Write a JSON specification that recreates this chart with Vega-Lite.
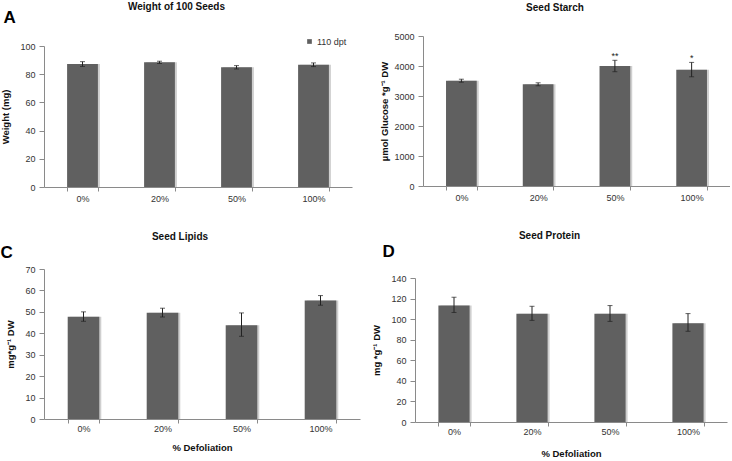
{
  "$schema": "https://vega.github.io/schema/vega-lite/v6.json",
  "padding": {"left": 0, "top": 2, "right": 0, "bottom": 0},
  "background": "white",
  "spacing": 28,
  "datasets": {
    "weight": [
      {"cat": "0%", "v": 87.2, "lo": 85.5, "hi": 88.9},
      {"cat": "20%", "v": 88.4, "lo": 87.6, "hi": 89.2},
      {"cat": "50%", "v": 84.9, "lo": 83.7, "hi": 86.1},
      {"cat": "100%", "v": 86.7, "lo": 85.4, "hi": 88.0}
    ],
    "starch": [
      {"cat": "0%", "v": 3510, "lo": 3460, "hi": 3560, "sig": ""},
      {"cat": "20%", "v": 3390, "lo": 3340, "hi": 3440, "sig": ""},
      {"cat": "50%", "v": 4000, "lo": 3810, "hi": 4190, "sig": "**"},
      {"cat": "100%", "v": 3877, "lo": 3640, "hi": 4120, "sig": "*"}
    ],
    "lipids": [
      {"cat": "0%", "v": 47.7, "lo": 45.6, "hi": 50.0},
      {"cat": "20%", "v": 49.6, "lo": 47.6, "hi": 51.7},
      {"cat": "50%", "v": 43.8, "lo": 38.6, "hi": 49.5},
      {"cat": "100%", "v": 55.3, "lo": 53.1, "hi": 57.6}
    ],
    "protein": [
      {"cat": "0%", "v": 113.3, "lo": 106.5, "hi": 121.3},
      {"cat": "20%", "v": 105.2, "lo": 98.8, "hi": 112.5},
      {"cat": "50%", "v": 105.2, "lo": 97.8, "hi": 113.2},
      {"cat": "100%", "v": 96.1, "lo": 88.2, "hi": 105.4}
    ]
  },
  "config": {
    "view": {"stroke": null},
    "font": "Liberation Sans",
    "title": {"font": "Liberation Sans", "fontSize": 10, "fontWeight": "bold", "color": "#111", "anchor": "middle", "frame": "bounds"},
    "axis": {
      "grid": false,
      "domainColor": "#8a8a8a",
      "tickColor": "#8a8a8a",
      "labelFont": "Liberation Sans",
      "labelFontSize": 9,
      "labelColor": "#333",
      "labelOverlap": false,
      "titleFont": "Liberation Sans",
      "titleFontSize": 9.5,
      "titleFontWeight": "bold",
      "titleColor": "#111"
    },
    "legend": {"labelFont": "Liberation Sans"}
  },
  "vconcat": [
    {
      "spacing": 27,
      "hconcat": [
        {
          "width": 308,
          "height": 151,
          "title": {"text": "Weight of 100 Seeds", "offset": -4},
          "data": {"name": "weight"},
          "layer": [
            {
              "mark": {"type": "bar", "color": "#cfcfcf", "xOffset": 2},
              "encoding": {
                "x": {"field": "cat", "type": "nominal", "sort": null, "scale": {"paddingInner": 0.6, "paddingOuter": 0.3},
                  "axis": {"orient": "bottom", "title": null, "labelAngle": 0, "tickBand": "extent", "tickSize": 4, "labelPadding": 3}},
                "y": {"field": "v", "type": "quantitative", "title": "Weight (mg)", "scale": {"domain": [0, 100], "nice": false, "range": [151, 10]},
                  "axis": {"values": [0, 20, 40, 60, 80, 100], "tickSize": 5, "labelPadding": 4, "titlePadding": 9}}
              }
            },
            {
              "mark": {"type": "bar"},
              "encoding": {
                "x": {"field": "cat", "type": "nominal", "sort": null, "axis": null},
                "y": {"field": "v", "type": "quantitative", "title": "Weight (mg)",
                  "axis": {"values": [0, 20, 40, 60, 80, 100], "tickSize": 5, "labelPadding": 4, "titlePadding": 9}},
                "color": {"datum": "110 dpt", "scale": {"range": ["#606060"]},
                  "legend": {"orient": "none", "legendX": 261, "legendY": 1, "title": null, "symbolType": "square", "symbolSize": 22, "labelFontSize": 9, "labelColor": "#333", "labelOffset": 3}}
              }
            },
            {
              "mark": {"type": "rule", "color": "#222", "strokeWidth": 1},
              "encoding": {
                "x": {"field": "cat", "type": "nominal", "sort": null, "axis": null},
                "y": {"field": "lo", "type": "quantitative", "title": "Weight (mg)",
                  "axis": {"values": [0, 20, 40, 60, 80, 100], "tickSize": 5, "labelPadding": 4, "titlePadding": 9}},
                "y2": {"field": "hi"}
              }
            },
            {
              "mark": {"type": "tick", "color": "#222", "size": 5, "thickness": 1},
              "encoding": {
                "x": {"field": "cat", "type": "nominal", "sort": null, "axis": null},
                "y": {"field": "lo", "type": "quantitative", "title": "Weight (mg)",
                  "axis": {"values": [0, 20, 40, 60, 80, 100], "tickSize": 5, "labelPadding": 4, "titlePadding": 9}}
              }
            },
            {
              "mark": {"type": "tick", "color": "#222", "size": 5, "thickness": 1},
              "encoding": {
                "x": {"field": "cat", "type": "nominal", "sort": null,
                  "axis": {"orient": "top", "labels": false, "ticks": false, "domain": false, "title": "A", "titleFontSize": 17, "titleFontWeight": "bold", "titleColor": "#000", "titleAnchor": "start", "titleAlign": "left", "titleBaseline": "alphabetic", "titleX": -41, "titleY": -14}},
                "y": {"field": "hi", "type": "quantitative", "title": "Weight (mg)",
                  "axis": {"values": [0, 20, 40, 60, 80, 100], "tickSize": 5, "labelPadding": 4, "titlePadding": 9}}
              }
            }
          ],
          "resolve": {"axis": {"x": "independent"}}
        },
        {
          "width": 307,
          "height": 150,
          "title": {"text": "Seed Starch", "offset": 19},
          "data": {"name": "starch"},
          "layer": [
            {
              "mark": {"type": "bar", "color": "#cfcfcf", "xOffset": 2},
              "encoding": {
                "x": {"field": "cat", "type": "nominal", "sort": null, "scale": {"paddingInner": 0.6, "paddingOuter": 0.3},
                  "axis": {"title": null, "labelAngle": 0, "tickBand": "extent", "tickSize": 4, "labelPadding": 3}},
                "y": {"field": "v", "type": "quantitative", "title": "µmol Glucose *g⁻¹ DW", "scale": {"domain": [0, 5000], "nice": false},
                  "axis": {"values": [0, 1000, 2000, 3000, 4000, 5000], "format": "d", "tickSize": 5, "labelPadding": 4, "titlePadding": 4}}
              }
            },
            {
              "mark": {"type": "bar", "color": "#606060"},
              "encoding": {
                "x": {"field": "cat", "type": "nominal", "sort": null},
                "y": {"field": "v", "type": "quantitative", "title": "µmol Glucose *g⁻¹ DW",
                  "axis": {"values": [0, 1000, 2000, 3000, 4000, 5000], "format": "d", "tickSize": 5, "labelPadding": 4, "titlePadding": 4}}
              }
            },
            {
              "mark": {"type": "rule", "color": "#222", "strokeWidth": 1},
              "encoding": {
                "x": {"field": "cat", "type": "nominal", "sort": null},
                "y": {"field": "lo", "type": "quantitative", "title": "µmol Glucose *g⁻¹ DW",
                  "axis": {"values": [0, 1000, 2000, 3000, 4000, 5000], "format": "d", "tickSize": 5, "labelPadding": 4, "titlePadding": 4}},
                "y2": {"field": "hi"}
              }
            },
            {
              "mark": {"type": "tick", "color": "#222", "size": 5, "thickness": 1},
              "encoding": {
                "x": {"field": "cat", "type": "nominal", "sort": null},
                "y": {"field": "lo", "type": "quantitative", "title": "µmol Glucose *g⁻¹ DW",
                  "axis": {"values": [0, 1000, 2000, 3000, 4000, 5000], "format": "d", "tickSize": 5, "labelPadding": 4, "titlePadding": 4}}
              }
            },
            {
              "mark": {"type": "tick", "color": "#222", "size": 5, "thickness": 1},
              "encoding": {
                "x": {"field": "cat", "type": "nominal", "sort": null},
                "y": {"field": "hi", "type": "quantitative", "title": "µmol Glucose *g⁻¹ DW",
                  "axis": {"values": [0, 1000, 2000, 3000, 4000, 5000], "format": "d", "tickSize": 5, "labelPadding": 4, "titlePadding": 4}}
              }
            },
            {
              "mark": {"type": "text", "fontSize": 9, "color": "#222", "fill": "#222", "baseline": "alphabetic", "dy": -1},
              "encoding": {
                "x": {"field": "cat", "type": "nominal", "sort": null},
                "y": {"field": "hi", "type": "quantitative", "title": "µmol Glucose *g⁻¹ DW",
                  "axis": {"values": [0, 1000, 2000, 3000, 4000, 5000], "format": "d", "tickSize": 5, "labelPadding": 4, "titlePadding": 4}},
                "text": {"field": "sig"}
              }
            }
          ]
        }
      ]
    },
    {
      "spacing": 11,
      "hconcat": [
        {
          "width": 316,
          "height": 150,
          "title": {"text": "Seed Lipids", "offset": 1},
          "data": {"name": "lipids"},
          "layer": [
            {
              "mark": {"type": "bar", "color": "#cfcfcf", "xOffset": 2},
              "encoding": {
                "x": {"field": "cat", "type": "nominal", "sort": null, "scale": {"paddingInner": 0.6, "paddingOuter": 0.3},
                  "axis": {"orient": "bottom", "title": "% Defoliation", "labelAngle": 0, "tickBand": "extent", "tickSize": 4, "labelPadding": 1, "titlePadding": 9}},
                "y": {"field": "v", "type": "quantitative", "title": "mg*g⁻¹ DW", "scale": {"domain": [0, 70], "nice": false},
                  "axis": {"values": [0, 10, 20, 30, 40, 50, 60, 70], "tickSize": 5, "labelPadding": 4, "titlePadding": 9}}
              }
            },
            {
              "mark": {"type": "bar", "color": "#606060"},
              "encoding": {
                "x": {"field": "cat", "type": "nominal", "sort": null, "axis": null},
                "y": {"field": "v", "type": "quantitative", "title": "mg*g⁻¹ DW",
                  "axis": {"values": [0, 10, 20, 30, 40, 50, 60, 70], "tickSize": 5, "labelPadding": 4, "titlePadding": 9}}
              }
            },
            {
              "mark": {"type": "rule", "color": "#222", "strokeWidth": 1},
              "encoding": {
                "x": {"field": "cat", "type": "nominal", "sort": null, "axis": null},
                "y": {"field": "lo", "type": "quantitative", "title": "mg*g⁻¹ DW",
                  "axis": {"values": [0, 10, 20, 30, 40, 50, 60, 70], "tickSize": 5, "labelPadding": 4, "titlePadding": 9}},
                "y2": {"field": "hi"}
              }
            },
            {
              "mark": {"type": "tick", "color": "#222", "size": 5, "thickness": 1},
              "encoding": {
                "x": {"field": "cat", "type": "nominal", "sort": null, "axis": null},
                "y": {"field": "lo", "type": "quantitative", "title": "mg*g⁻¹ DW",
                  "axis": {"values": [0, 10, 20, 30, 40, 50, 60, 70], "tickSize": 5, "labelPadding": 4, "titlePadding": 9}}
              }
            },
            {
              "mark": {"type": "tick", "color": "#222", "size": 5, "thickness": 1},
              "encoding": {
                "x": {"field": "cat", "type": "nominal", "sort": null,
                  "axis": {"orient": "top", "labels": false, "ticks": false, "domain": false, "title": "C", "titleFontSize": 17, "titleFontWeight": "bold", "titleColor": "#000", "titleAnchor": "start", "titleAlign": "left", "titleBaseline": "alphabetic", "titleX": -44, "titleY": -12}},
                "y": {"field": "hi", "type": "quantitative", "title": "mg*g⁻¹ DW",
                  "axis": {"values": [0, 10, 20, 30, 40, 50, 60, 70], "tickSize": 5, "labelPadding": 4, "titlePadding": 9}}
              }
            }
          ],
          "resolve": {"axis": {"x": "independent"}}
        },
        {
          "width": 312,
          "height": 153,
          "title": {"text": "Seed Protein", "offset": 1},
          "data": {"name": "protein"},
          "layer": [
            {
              "mark": {"type": "bar", "color": "#cfcfcf", "xOffset": 2},
              "encoding": {
                "x": {"field": "cat", "type": "nominal", "sort": null, "scale": {"paddingInner": 0.6, "paddingOuter": 0.3},
                  "axis": {"orient": "bottom", "title": "% Defoliation", "labelAngle": 0, "tickBand": "extent", "tickSize": 4, "labelPadding": 1, "titlePadding": 12}},
                "y": {"field": "v", "type": "quantitative", "title": "mg *g⁻¹ DW", "scale": {"domain": [0, 140], "nice": false, "range": [153, 9]},
                  "axis": {"values": [0, 20, 40, 60, 80, 100, 120, 140], "tickSize": 5, "labelPadding": 4, "titlePadding": 9}}
              }
            },
            {
              "mark": {"type": "bar", "color": "#606060"},
              "encoding": {
                "x": {"field": "cat", "type": "nominal", "sort": null, "axis": null},
                "y": {"field": "v", "type": "quantitative", "title": "mg *g⁻¹ DW",
                  "axis": {"values": [0, 20, 40, 60, 80, 100, 120, 140], "tickSize": 5, "labelPadding": 4, "titlePadding": 9}}
              }
            },
            {
              "mark": {"type": "rule", "color": "#222", "strokeWidth": 1},
              "encoding": {
                "x": {"field": "cat", "type": "nominal", "sort": null, "axis": null},
                "y": {"field": "lo", "type": "quantitative", "title": "mg *g⁻¹ DW",
                  "axis": {"values": [0, 20, 40, 60, 80, 100, 120, 140], "tickSize": 5, "labelPadding": 4, "titlePadding": 9}},
                "y2": {"field": "hi"}
              }
            },
            {
              "mark": {"type": "tick", "color": "#222", "size": 5, "thickness": 1},
              "encoding": {
                "x": {"field": "cat", "type": "nominal", "sort": null, "axis": null},
                "y": {"field": "lo", "type": "quantitative", "title": "mg *g⁻¹ DW",
                  "axis": {"values": [0, 20, 40, 60, 80, 100, 120, 140], "tickSize": 5, "labelPadding": 4, "titlePadding": 9}}
              }
            },
            {
              "mark": {"type": "tick", "color": "#222", "size": 5, "thickness": 1},
              "encoding": {
                "x": {"field": "cat", "type": "nominal", "sort": null,
                  "axis": {"orient": "top", "labels": false, "ticks": false, "domain": false, "title": "D", "titleFontSize": 17, "titleFontWeight": "bold", "titleColor": "#000", "titleAnchor": "start", "titleAlign": "left", "titleBaseline": "alphabetic", "titleX": -33, "titleY": -13}},
                "y": {"field": "hi", "type": "quantitative", "title": "mg *g⁻¹ DW",
                  "axis": {"values": [0, 20, 40, 60, 80, 100, 120, 140], "tickSize": 5, "labelPadding": 4, "titlePadding": 9}}
              }
            }
          ],
          "resolve": {"axis": {"x": "independent"}}
        }
      ]
    }
  ]
}
